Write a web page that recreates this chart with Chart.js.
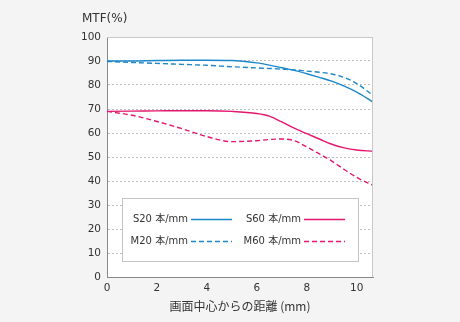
<!DOCTYPE html>
<html>
<head>
<meta charset="utf-8">
<script src="https://cdn.jsdelivr.net/npm/chart.js@4/dist/chart.umd.min.js"></script>
<style>
  html, body { margin: 0; padding: 0; background: #f4f4f4; }
  #wrap { width: 460px; height: 322px; }
</style>
</head>
<body>
<div id="wrap"><canvas id="mtf"></canvas></div>
<script>
// distance from image center (mm)
var xs = [0, 1, 2, 3, 4, 5, 6, 6.5, 7, 7.5, 8, 8.5, 9, 9.5, 10, 10.65];

var s20 = [90, 90, 90.2, 90.3, 90.3, 90.2, 89.2, 88.3, 87.2, 86.1, 84.7, 83.2, 81.6, 79.5, 77, 72.9];
var m20 = [89.8, 89.4, 89, 88.6, 88.2, 87.6, 87.1, 86.9, 86.6, 86.3, 85.8, 85.3, 84.6, 83.1, 80.6, 75.7];
var s60 = [69, 69.1, 69.2, 69.3, 69.3, 69, 68.1, 67, 64.6, 62, 59.7, 57.5, 55.3, 53.8, 52.9, 52.4];
var m60 = [69, 67.4, 64.8, 61.8, 58.5, 56.4, 56.8, 57.3, 57.5, 56.8, 54.2, 51.3, 48.3, 44.8, 41.5, 38.2];

var labels = ['S20 本/mm', 'M20 本/mm', 'S60 本/mm', 'M60 本/mm'];
var xTicks = [0, 2, 4, 6, 8, 10];
var yTicks = [0, 10, 20, 30, 40, 50, 60, 70, 80, 90, 100];

var BLUE = '#1c87c9';
var PINK = '#e3176f';
var FONT = '"DejaVu Sans", "Noto Sans CJK JP", sans-serif';
var JP = '"Noto Sans CJK JP", sans-serif';

function pts(arr) {
  return arr.map(function (v, i) { return { x: xs[i], y: v }; });
}

function ds(label, arr, color, dashed) {
  return {
    label: label,
    data: pts(arr),
    borderColor: color,
    borderWidth: 1.4,
    borderDash: dashed ? [5, 3] : [],
    pointRadius: 0,
    cubicInterpolationMode: 'monotone',
    fill: false
  };
}

// white plot background + frame + MTF(%) label
var plotBg = {
  id: 'plotBg',
  beforeDraw: function (chart) {
    var a = chart.chartArea, ctx = chart.ctx;
    ctx.save();
    ctx.fillStyle = '#ffffff';
    ctx.fillRect(a.left, a.top, a.right - a.left, a.bottom - a.top);
    ctx.restore();
  },
  afterDraw: function (chart) {
    var a = chart.chartArea, ctx = chart.ctx;
    ctx.save();
    ctx.strokeStyle = '#c8c8c8';
    ctx.lineWidth = 1;
    ctx.beginPath();
    ctx.moveTo(a.left, a.top + 0.5);
    ctx.lineTo(a.right - 0.5, a.top + 0.5);
    ctx.lineTo(a.right - 0.5, a.bottom);
    ctx.stroke();
    ctx.fillStyle = '#333';
    ctx.font = '12px "DejaVu Sans", sans-serif';
    ctx.textAlign = 'left';
    ctx.textBaseline = 'middle';
    ctx.fillText('MTF(%)', 82, 19);
    ctx.restore();
  }
};

// boxed legend inside the plot
var boxLegend = {
  id: 'boxLegend',
  afterDraw: function (chart) {
    var a = chart.chartArea, ctx = chart.ctx;
    var bx = a.left + 15, by = a.top + 161, bw = 236, bh = 63;
    ctx.save();
    ctx.fillStyle = '#ffffff';
    ctx.fillRect(bx, by, bw, bh);
    ctx.strokeStyle = '#c4c4c4';
    ctx.lineWidth = 1;
    ctx.strokeRect(bx + 0.5, by + 0.5, bw, bh);
    ctx.font = '10px ' + FONT;
    ctx.textBaseline = 'middle';
    var cols = [bx + 110, bx + 223];
    chart.data.datasets.forEach(function (d, i) {
      var col = i < 2 ? 0 : 1;
      var row = i % 2;
      var ly = by + 21 + row * 22;
      var lineEnd = cols[col];
      var lineStart = lineEnd - 41;
      ctx.fillStyle = '#333';
      ctx.textAlign = 'right';
      ctx.fillText(d.label, lineStart - 3, ly);
      ctx.strokeStyle = d.borderColor;
      ctx.lineWidth = 1.6;
      ctx.setLineDash(d.borderDash);
      ctx.beginPath();
      ctx.moveTo(lineStart, ly + 0.5);
      ctx.lineTo(lineEnd, ly + 0.5);
      ctx.stroke();
      ctx.setLineDash([]);
    });
    ctx.restore();
  }
};

new Chart(document.getElementById('mtf'), {
  type: 'line',
  data: {
    datasets: [
      ds(labels[0], s20, BLUE, false),
      ds(labels[1], m20, BLUE, true),
      ds(labels[2], s60, PINK, false),
      ds(labels[3], m60, PINK, true)
    ]
  },
  options: {
    responsive: true,
    maintainAspectRatio: false,
    animation: false,
    layout: { padding: { top: 37, right: 87, left: 0, bottom: 8 } },
    plugins: {
      legend: { display: false },
      tooltip: { enabled: false }
    },
    scales: {
      x: {
        type: 'linear',
        min: 0,
        max: 10.65,
        afterBuildTicks: function (axis) {
          axis.ticks = xTicks.map(function (v) { return { value: v }; });
        },
        grid: { display: false, drawTicks: true, tickLength: 4, color: '#888' },
        border: { display: true, color: '#888' },
        ticks: {
          color: '#333',
          font: { family: FONT, size: 10.5 },
          maxRotation: 0,
          padding: 1
        },
        title: {
          display: true,
          text: '画面中心からの距離 (mm)',
          color: '#333',
          font: { family: JP, size: 12 },
          padding: { top: 4, bottom: 0 }
        }
      },
      y: {
        min: 0,
        max: 100,
        afterBuildTicks: function (axis) {
          axis.ticks = yTicks.map(function (v) { return { value: v }; });
        },
        afterFit: function (axis) { axis.width = 107; },
        grid: {
          color: '#bdbdbd',
          lineWidth: 1,
          drawTicks: false
        },
        border: { display: true, color: '#888', dash: [2, 2] },
        ticks: {
          color: '#333',
          font: { family: FONT, size: 10.5 },
          padding: 6
        }
      }
    }
  },
  plugins: [plotBg, boxLegend]
});
</script>
</body>
</html>
